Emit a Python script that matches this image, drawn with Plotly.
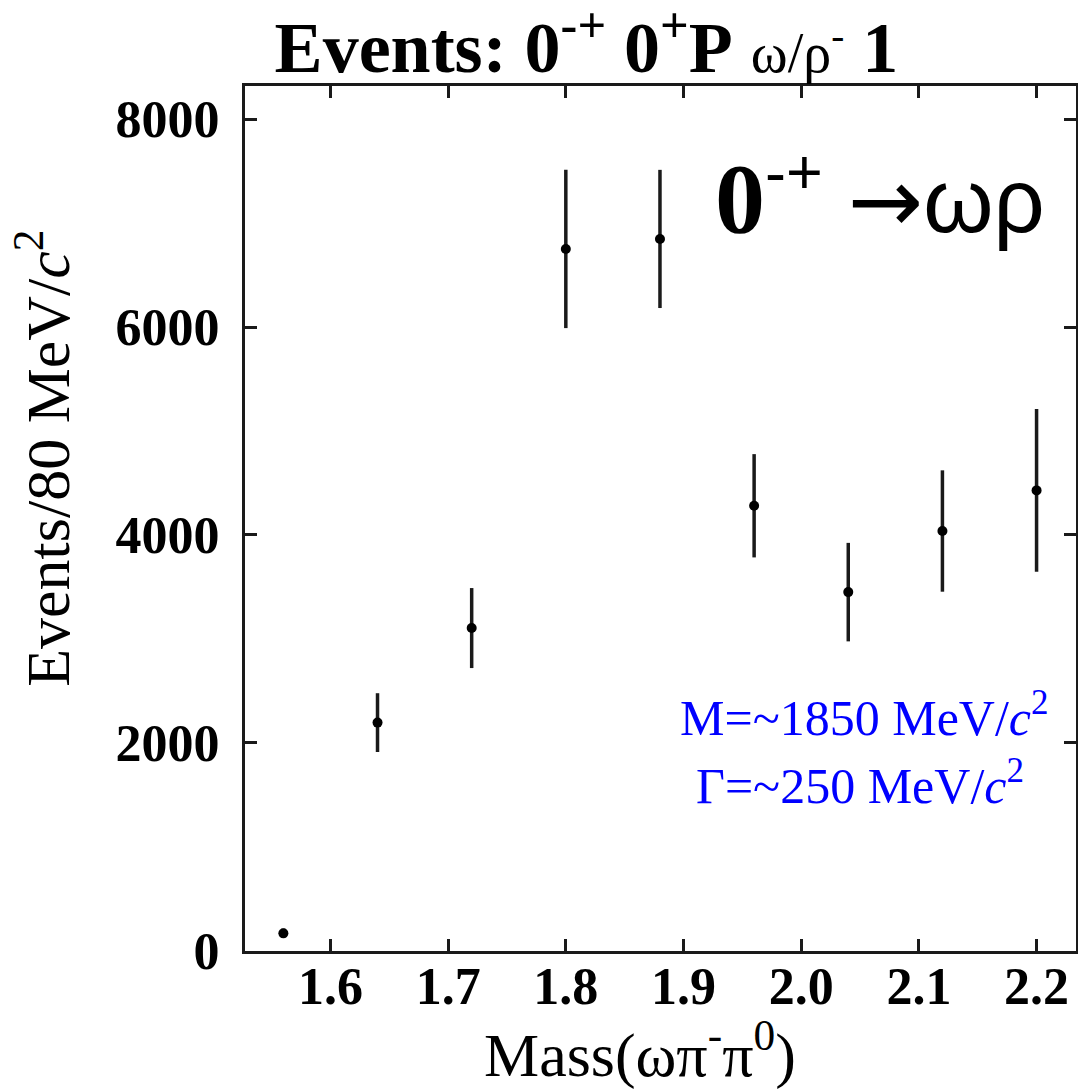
import plotly.graph_objects as go

mass = [1.56, 1.64, 1.72, 1.80, 1.88, 1.96, 2.04, 2.12, 2.20]
events = [165, 2193, 3103, 6752, 6848, 4280, 3449, 4037, 4428]
errors = [45, 283, 385, 762, 665, 497, 474, 584, 783]

x_ticks = [1.6, 1.7, 1.8, 1.9, 2.0, 2.1, 2.2]
x_ticklabels = ["1.6", "1.7", "1.8", "1.9", "2.0", "2.1", "2.2"]
y_ticks = [0, 2000, 4000, 6000, 8000]
y_ticklabels = ["0", "2000", "4000", "6000", "8000"]

SERIF = "Liberation Serif, Times New Roman, serif"
SANS = "Liberation Sans, Arial, sans-serif"
AXC = "#1a1a1a"

fig = go.Figure()
fig.add_trace(go.Scatter(
    x=mass, y=events, mode="markers",
    marker=dict(color="black", size=10, symbol="circle"),
    error_y=dict(type="data", array=errors, visible=True, thickness=3.5, width=0, color=AXC),
    showlegend=False,
))

axis_common = dict(
    showline=True, linewidth=3, linecolor=AXC, mirror="ticks",
    ticks="inside", ticklen=12, tickwidth=3, tickcolor=AXC,
    showgrid=False, zeroline=False, automargin=False,
    tickfont=dict(family=SERIF, size=52, color="black", weight="bold"),
)

fig.update_xaxes(
    range=[1.5274, 2.2335], tickvals=x_ticks, ticktext=x_ticklabels,
    ticklabelstandoff=-12,
    **axis_common,
)
fig.update_yaxes(
    range=[-5, 8320], tickvals=y_ticks, ticktext=y_ticklabels,
    ticklabelstandoff=12,
    **axis_common,
)

fig.update_layout(
    width=1078, height=1089,
    margin=dict(l=245, r=2, t=86, b=138),
    paper_bgcolor="white", plot_bgcolor="white",
    title=dict(
        text="<b>Events: 0<sup>-+</sup> 0<sup>+</sup>P</b> <span style='font-size:56px'>ω/ρ<sup>-</sup></span> <b>1</b>",
        font=dict(family=SERIF, size=72, color="black"),
        x=0.544, xanchor="center", xref="container",
        y=0.957, yanchor="middle", yref="container",
    ),
)

# axis titles
fig.add_annotation(
    text="Mass(ωπ<sup>-</sup>π<sup>0</sup>)",
    x=(640 - 245) / 831.5, y=-(1050 - 951) / 864.5, xref="paper", yref="paper",
    xanchor="center", yanchor="middle", showarrow=False,
    font=dict(family=SERIF, size=62, color="black"),
)
fig.add_annotation(
    text="Events/80 MeV/<i>c</i><sup>2</sup>",
    x=(43 - 245) / 831.5, y=(951 - 459) / 864.5, xref="paper", yref="paper",
    xanchor="center", yanchor="middle", textangle=-90, showarrow=False,
    font=dict(family=SERIF, size=62, color="black"),
)

# decay label
fig.add_annotation(
    text="<span style='font-family:Liberation Serif;font-weight:bold;font-size:100px'>0</span><sup>-+</sup> <span style='font-family:DejaVu Sans'>→</span>ωρ",
    x=1.0 - (1076 - 1047) / 831.5, y=(951 - 196) / 864.5, xref="paper", yref="paper",
    xanchor="right", yanchor="middle", showarrow=False,
    font=dict(family=SANS, size=90, color="black"),
)

# blue fit results
fig.add_annotation(
    text="M=~1850 MeV/<i>c</i><sup>2</sup>",
    x=(865 - 245) / 831.5, y=(951 - 715) / 864.5, xref="paper", yref="paper",
    xanchor="center", yanchor="middle", showarrow=False,
    font=dict(family=SERIF, size=50, color="#0000ff"),
)
fig.add_annotation(
    text="Γ=~250 MeV/<i>c</i><sup>2</sup>",
    x=(860 - 245) / 831.5, y=(951 - 783) / 864.5, xref="paper", yref="paper",
    xanchor="center", yanchor="middle", showarrow=False,
    font=dict(family=SERIF, size=50, color="#0000ff"),
)

fig.write_html("out.html")
